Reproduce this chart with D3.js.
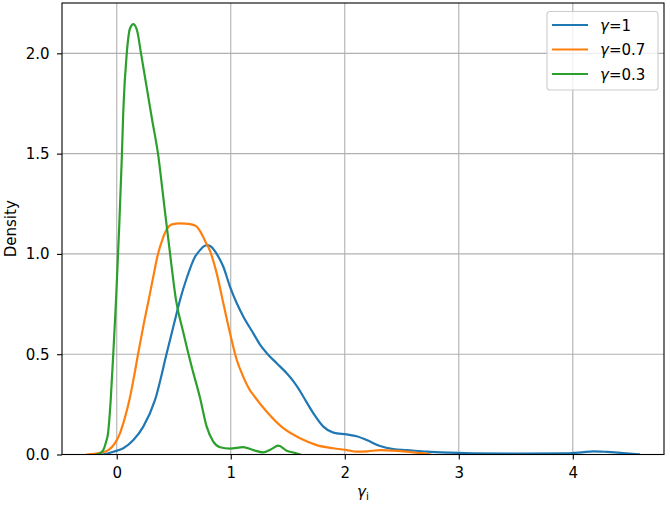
<!DOCTYPE html>
<html>
<head>
<meta charset="utf-8">
<script src="https://cdn.jsdelivr.net/npm/d3@7"></script>
<style>
  html, body { margin: 0; padding: 0; background: #fff; }
  svg { display: block; font-family: "DejaVu Sans", sans-serif; }
</style>
</head>
<body>
<svg id="chart" width="670" height="506"></svg>
<script>
// ---- data ----
const seriesNames = ["γ=1", "γ=0.7", "γ=0.3"];
const seriesColors = ["#1f77b4", "#ff7f0e", "#2ca02c"];

const blueX = [-0.13, -0.08, -0.03, 0.058, 0.146, 0.233, 0.336, 0.439, 0.526, 0.555, 0.614, 0.687, 0.731, 0.76, 0.795, 0.83, 0.877, 0.935, 0.994, 1.053, 1.111, 1.198, 1.26, 1.316, 1.403, 1.491, 1.55, 1.593, 1.637, 1.725, 1.812, 1.9, 2.018, 2.105, 2.193, 2.31, 2.426, 2.544, 2.719, 2.924, 3.125, 3.54, 3.947, 4.08, 4.18, 4.3, 4.44, 4.58];
const blueY = [0, 0.005, 0.014, 0.031, 0.072, 0.139, 0.272, 0.506, 0.705, 0.77, 0.88, 0.986, 1.019, 1.036, 1.044, 1.035, 1.0, 0.936, 0.836, 0.754, 0.687, 0.604, 0.545, 0.505, 0.455, 0.405, 0.365, 0.33, 0.288, 0.205, 0.139, 0.109, 0.1, 0.091, 0.072, 0.042, 0.027, 0.022, 0.014, 0.009, 0.006, 0.004, 0.006, 0.011, 0.016, 0.013, 0.007, 0.001];

const orangeX = [-0.26, -0.2, -0.146, -0.074, -0.015, 0.029, 0.07, 0.111, 0.146, 0.187, 0.24, 0.28, 0.32, 0.362, 0.4, 0.432, 0.485, 0.555, 0.643, 0.696, 0.731, 0.775, 0.818, 0.877, 0.935, 0.994, 1.053, 1.111, 1.169, 1.198, 1.316, 1.461, 1.608, 1.754, 1.9, 2.018, 2.105, 2.2, 2.31, 2.426, 2.544, 2.64, 2.72, 2.75];
const orangeY = [0, 0.003, 0.008, 0.022, 0.057, 0.107, 0.18, 0.272, 0.371, 0.5, 0.66, 0.77, 0.885, 1.0, 1.07, 1.115, 1.147, 1.152, 1.149, 1.139, 1.114, 1.065, 1.015, 0.903, 0.754, 0.604, 0.471, 0.386, 0.32, 0.297, 0.213, 0.131, 0.081, 0.047, 0.031, 0.022, 0.014, 0.016, 0.022, 0.019, 0.014, 0.008, 0.003, 0];

const greenX = [-0.18, -0.146, -0.118, -0.095, -0.076, -0.053, -0.03, -0.006, 0.022, 0.044, 0.058, 0.088, 0.117, 0.146, 0.18, 0.213, 0.26, 0.31, 0.362, 0.415, 0.468, 0.52, 0.585, 0.658, 0.731, 0.789, 0.847, 0.906, 0.994, 1.11, 1.198, 1.286, 1.35, 1.418, 1.491, 1.56, 1.61];
const greenY = [0, 0.007, 0.022, 0.06, 0.107, 0.27, 0.506, 0.77, 1.14, 1.47, 1.717, 2.0, 2.125, 2.146, 2.11, 2.0, 1.84, 1.67, 1.5, 1.25, 1.0, 0.77, 0.606, 0.436, 0.282, 0.139, 0.064, 0.036, 0.029, 0.037, 0.022, 0.011, 0.025, 0.044, 0.019, 0.008, 0];

const xTicks = [0, 1, 2, 3, 4];
const yTicks = [0.0, 0.5, 1.0, 1.5, 2.0];
const xLabel = "γ";
const xLabelSub = "i";
const yLabel = "Density";

// ---- layout ----
const svg = d3.select("#chart");
const pL = 62, pR = 664, pT = 3, pB = 454.5;
const fs = "15px";

const x = d3.scaleLinear().domain([-0.48, 4.80]).range([pL, pR]);
const y = d3.scaleLinear().domain([0, 2.251]).range([pB, pT]);

// grid
const grid = svg.append("g");
grid.selectAll(".gx").data(xTicks).enter().append("line")
  .attr("x1", d => x(d)).attr("x2", d => x(d))
  .attr("y1", pT).attr("y2", pB)
  .attr("stroke", "#b0b0b0").attr("stroke-width", 1.1);
grid.selectAll(".gy").data(yTicks).enter().append("line")
  .attr("x1", pL).attr("x2", pR)
  .attr("y1", d => y(d)).attr("y2", d => y(d))
  .attr("stroke", "#b0b0b0").attr("stroke-width", 1.1);

// lines
const series = [
  {xs: blueX, ys: blueY},
  {xs: orangeX, ys: orangeY},
  {xs: greenX, ys: greenY}
];
const line = d3.line().x(d => x(d[0])).y(d => y(d[1])).curve(d3.curveMonotoneX);
svg.append("clipPath").attr("id", "clip").append("rect")
  .attr("x", pL).attr("y", pT).attr("width", pR - pL).attr("height", pB - pT);
series.forEach((s, i) => {
  const pts = s.xs.map((v, j) => [v, s.ys[j]]);
  svg.append("path").datum(pts)
    .attr("d", line)
    .attr("fill", "none")
    .attr("stroke", seriesColors[i])
    .attr("stroke-width", 2.2)
    .attr("stroke-linejoin", "round")
    .attr("stroke-linecap", "square")
    .attr("clip-path", "url(#clip)");
});

// axes
const xAxis = d3.axisBottom(x).tickValues(xTicks).tickFormat(d3.format("d")).tickSize(5).tickPadding(7.5);
const yAxis = d3.axisLeft(y).tickValues(yTicks).tickFormat(d3.format(".1f")).tickSize(5).tickPadding(7.5);
const gx = svg.append("g").attr("transform", `translate(0,${pB})`).call(xAxis);
const gy = svg.append("g").attr("transform", `translate(${pL},0)`).call(yAxis);
[gx, gy].forEach(g => {
  g.select(".domain").remove();
  g.selectAll("line").attr("stroke", "#000").attr("stroke-width", 1.1);
  g.selectAll("text").attr("fill", "#000").style("font-size", fs).style("font-family", "DejaVu Sans");
});

// frame
svg.append("rect").attr("x", pL).attr("y", pT).attr("width", pR - pL).attr("height", pB - pT)
  .attr("fill", "none").attr("stroke", "#000").attr("stroke-width", 1.1);

// axis labels
const xl = svg.append("text").attr("x", (pL + pR) / 2).attr("y", 497)
  .attr("text-anchor", "middle").style("font-size", fs).attr("fill", "#000");
xl.append("tspan").text(xLabel).style("font-style", "italic");
xl.append("tspan").text(xLabelSub).style("font-size", "10.5px").attr("dy", 3);

svg.append("text").attr("transform", `translate(15.5,${(pT + pB) / 2}) rotate(-90)`)
  .attr("text-anchor", "middle").style("font-size", fs).attr("fill", "#000").text(yLabel);

// legend
const lg = svg.append("g");
lg.append("rect").attr("x", 547).attr("y", 11.5).attr("width", 111).attr("height", 78.5)
  .attr("rx", 3).attr("fill", "#fff").attr("fill-opacity", 0.8)
  .attr("stroke", "#cccccc").attr("stroke-width", 1.1);
const rowY = [25, 49.5, 74];
seriesNames.forEach((name, i) => {
  lg.append("line").attr("x1", 552).attr("x2", 588).attr("y1", rowY[i]).attr("y2", rowY[i])
    .attr("stroke", seriesColors[i]).attr("stroke-width", 2.2);
  const t = lg.append("text").attr("x", 600).attr("y", rowY[i] + 5.5)
    .style("font-size", fs).attr("fill", "#000");
  t.append("tspan").text(name.slice(0, 1)).style("font-style", "italic");
  t.append("tspan").text(name.slice(1));
});
</script>
</body>
</html>
